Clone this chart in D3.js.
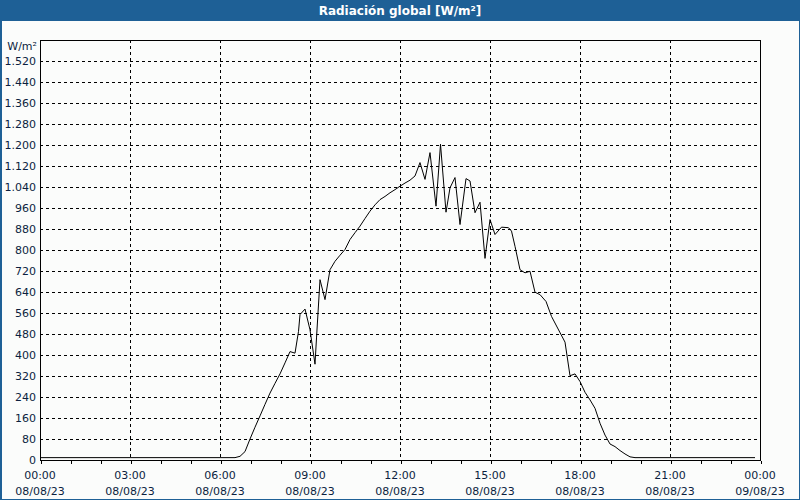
<!DOCTYPE html>
<html><head><meta charset="utf-8">
<script src="https://cdn.jsdelivr.net/npm/d3@7"></script>
<style>
html,body{margin:0;padding:0;background:#fbfcfb;}
svg{display:block;}
text{font-family:Tahoma,"DejaVu Sans",Verdana,sans-serif;}
</style></head><body>
<svg id="c" width="800" height="500"></svg>
<script>
const title = "Radiación global [W/m²]";
const unitLabel = "W/m²";
const yTicks = [0,80,160,240,320,400,480,560,640,720,800,880,960,1040,1120,1200,1280,1360,1440,1520];
const xTickHours = [0,3,6,9,12,15,18,21,24];
const xTimeLabels = ["00:00","03:00","06:00","09:00","12:00","15:00","18:00","21:00","00:00"];
const xDateLabels = ["08/08/23","08/08/23","08/08/23","08/08/23","08/08/23","08/08/23","08/08/23","08/08/23","09/08/23"];
// times (HH:MM) and global radiation values (W/m²)
const times = ["00:00","06:30","06:40","06:50","07:00","07:10","07:20","07:30","07:40","07:50","08:00","08:10","08:20","08:30","08:37","08:40","08:50","09:00","09:10","09:13","09:20","09:30","09:40","09:50","10:00","10:10","10:20","10:30","10:40","10:50","11:00","11:10","11:20","11:30","11:40","11:50","12:00","12:10","12:20","12:30","12:40","12:50","13:00","13:12","13:21","13:32","13:40","13:50","14:00","14:12","14:20","14:30","14:40","14:50","15:00","15:10","15:23","15:37","15:43","15:50","16:00","16:10","16:20","16:30","16:40","16:52","17:03","17:30","17:40","17:50","18:00","18:10","18:20","18:30","18:40","18:50","19:00","19:10","19:20","19:30","19:40","19:50","23:50"];
const values = [9,9,14,32,80,125,168,212,255,292,328,370,413,407,490,554,575,496,365,465,687,611,725,757,780,802,840,866,891,920,948,972,992,1004,1018,1030,1043,1055,1066,1082,1133,1069,1171,967,1203,944,1037,1076,897,1072,1063,942,982,768,916,859,887,885,872,814,725,713,719,639,630,604,547,449,321,328,299,258,229,197,140,95,61,51,36,23,12,9,9];

const svg = d3.select("#c");
const W = 800, H = 500;
const m = {left:40, right:760, top:40, bottom:460};

// title bar
svg.append("rect").attr("x",0).attr("y",0).attr("width",W).attr("height",21).attr("fill","#1e6096");
svg.append("text").attr("x",W/2).attr("y",15).attr("text-anchor","middle")
  .attr("fill","#fff").attr("font-size","12px").attr("font-weight","bold").text(title);
// outer border
svg.append("rect").attr("x",0.5).attr("y",0.5).attr("width",W-1).attr("height",H-1)
  .attr("fill","none").attr("stroke","#1e6096").attr("stroke-width",1);
svg.append("line").attr("x1",1.5).attr("x2",1.5).attr("y1",0).attr("y2",H).attr("stroke","#1e6096");

const x = d3.scaleLinear().domain([0,24]).range([m.left,m.right]);
const y = d3.scaleLinear().domain([0,1600]).range([m.bottom,m.top]);

const toH = s => { const [h,mm] = s.split(":").map(Number); return h + mm/60; };
const data = times.map((t,i)=>({h:toH(t), v:values[i]}));

const g = svg.append("g");
// horizontal grid
g.selectAll(".hg").data(yTicks.filter(d=>d>0)).join("line")
  .attr("x1",m.left).attr("x2",m.right)
  .attr("y1",d=>Math.round(y(d))+0.5).attr("y2",d=>Math.round(y(d))+0.5)
  .attr("stroke","#000").attr("stroke-dasharray","3,3").attr("shape-rendering","crispEdges");
// vertical grid
g.selectAll(".vg").data(xTickHours.filter(d=>d>0&&d<24)).join("line")
  .attr("y1",m.top).attr("y2",m.bottom)
  .attr("x1",d=>Math.round(x(d))+0.5).attr("x2",d=>Math.round(x(d))+0.5)
  .attr("stroke","#000").attr("stroke-dasharray","3,3").attr("shape-rendering","crispEdges");

// frame
svg.append("rect").attr("x",m.left+0.5).attr("y",m.top+0.5).attr("width",m.right-m.left).attr("height",m.bottom-m.top)
  .attr("fill","none").attr("stroke","#000").attr("shape-rendering","crispEdges");

// x axis ticks (hourly)
const xAxis = d3.axisBottom(x).tickValues(d3.range(0,25,1)).tickSize(3).tickFormat("");
const xa = svg.append("g").attr("transform",`translate(0.5,${m.bottom+0.5})`).call(xAxis);
xa.select(".domain").remove();
xa.selectAll("line").attr("stroke","#000").attr("shape-rendering","crispEdges");

// x labels
const labCol = "#0c1f3f";
xTickHours.forEach((hh,i)=>{
  svg.append("text").attr("x",x(hh)).attr("y",479).attr("text-anchor","middle")
    .attr("font-size","11px").attr("fill",labCol).text(xTimeLabels[i]);
  svg.append("text").attr("x",x(hh)).attr("y",495).attr("text-anchor","middle")
    .attr("font-size","11px").attr("fill",labCol).text(xDateLabels[i]);
});

// y labels
const fmt = v => v>=1000 ? d3.format(",")(v).replace(",",".") : String(v);
const yAxis = d3.axisLeft(y).tickValues(yTicks).tickSize(0).tickPadding(4).tickFormat(fmt);
const ya = svg.append("g").attr("transform",`translate(${m.left},0)`).call(yAxis);
ya.select(".domain").remove();
ya.selectAll("text").attr("font-size","11px").attr("fill",labCol).attr("font-family","Tahoma,'DejaVu Sans',Verdana,sans-serif");
svg.append("text").attr("x",37).attr("y",50).attr("text-anchor","end")
  .attr("font-size","11px").attr("fill",labCol).text(unitLabel);

// data line
const line = d3.line().x(d=>x(d.h)).y(d=>y(d.v));
svg.append("path").datum(data).attr("d",line).attr("fill","none").attr("stroke","#000").attr("stroke-width",1);
</script>
</body></html>
